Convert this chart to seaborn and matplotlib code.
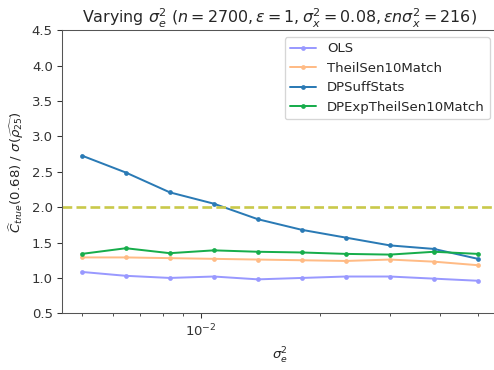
import numpy as np
import pandas as pd
import matplotlib
matplotlib.use("Agg")
import matplotlib.pyplot as plt
import seaborn as sns

sigma_e2 = [0.005, 0.00646, 0.00834, 0.01077, 0.01392, 0.01797, 0.02321, 0.02998, 0.03873, 0.05]
ols = [1.085, 1.03, 1.00, 1.02, 0.98, 1.00, 1.02, 1.02, 0.99, 0.96]
theilsen = [1.29, 1.29, 1.28, 1.27, 1.26, 1.25, 1.24, 1.26, 1.23, 1.18]
dpsuff = [2.73, 2.49, 2.21, 2.05, 1.83, 1.68, 1.57, 1.46, 1.41, 1.27]
dpexp = [1.34, 1.42, 1.35, 1.39, 1.37, 1.36, 1.34, 1.33, 1.37, 1.34]
methods = ["OLS", "TheilSen10Match", "DPSuffStats", "DPExpTheilSen10Match"]
threshold = 2.0

series = {"OLS": ols, "TheilSen10Match": theilsen, "DPSuffStats": dpsuff, "DPExpTheilSen10Match": dpexp}
rows = []
for m in methods:
    for x, v in zip(sigma_e2, series[m]):
        rows.append({"sigma_e2": x, "value": v, "method": m})
df = pd.DataFrame(rows)

sns.set_style("ticks")
plt.rcParams["font.family"] = ["DejaVu Sans"]

palette = {"OLS": "#9999ff", "TheilSen10Match": "#ffbb85",
           "DPSuffStats": "#2a7ab5", "DPExpTheilSen10Match": "#17ad4b"}

DPI = 95
fig = plt.figure(figsize=(494 / DPI, 370 / DPI), dpi=DPI)
ax = fig.add_axes([62 / 494, 1 - 313.3 / 370, 435.7 / 494, 282.9 / 370])

sns.lineplot(data=df, x="sigma_e2", y="value", hue="method", hue_order=methods,
             palette=palette, marker="o", markersize=3.6, markeredgewidth=0,
             linewidth=1.5, ax=ax)
ax.axhline(threshold, color="#c9c94a", linestyle="--", linewidth=2)

ax.set_xscale("log")
ax.set_ylim(0.5, 4.5)
ax.set_yticks(np.arange(0.5, 4.51, 0.5))
ax.tick_params(axis="both", labelsize=10, colors="#333333")
for s in ax.spines.values():
    s.set_color("#555555")

ax.set_title(r"Varying $\sigma_e^2$ ($n=2700, \varepsilon=1, \sigma_x^2=0.08, \varepsilon n\sigma_x^2=216$)",
             fontsize=12, color="#262626", pad=5)
ax.set_xlabel(r"$\sigma_e^2$", fontsize=10, color="#262626", labelpad=5)
ax.set_ylabel(r"$\widehat{C}_{true}(0.68)\ /\ \sigma(\widehat{\rho_{25}})$", fontsize=10, color="#262626")

handles, labels = ax.get_legend_handles_labels()
ax.legend(handles, labels, loc="upper right", bbox_to_anchor=(0.9975, 1.0), fontsize=10, frameon=True)

fig.savefig("out.png", dpi=DPI)
